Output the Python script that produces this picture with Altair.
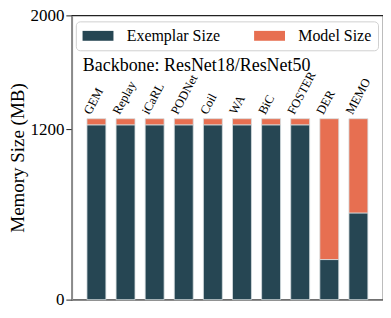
import altair as alt
import pandas as pd

methods = ["GEM", "Replay", "iCaRL", "PODNet", "Coil", "WA", "BiC", "FOSTER", "DER", "MEMO"]
exemplar = [1230, 1230, 1230, 1230, 1230, 1230, 1230, 1230, 282, 610]
model = [43, 43, 43, 43, 43, 43, 43, 43, 991, 663]
series = ["Exemplar Size", "Model Size"]
colors = ["#264653", "#E76F51"]
y_ticks = [0, 1200, 2000]

rows = []
for m, e, s in zip(methods, exemplar, model):
    rows.append({"method": m, "kind": series[0], "start": 0, "end": e})
    rows.append({"method": m, "kind": series[1], "start": e, "end": e + s})
bars_df = pd.DataFrame(rows)
labels_df = pd.DataFrame({"method": methods, "total": [e + s for e, s in zip(exemplar, model)]})

FONT = "Liberation Serif"

xs = alt.X("method:N", sort=methods,
           scale=alt.Scale(paddingInner=0.35, paddingOuter=0.52),
           axis=alt.Axis(labels=False, ticks=False, title=None, domainColor="#8a8a8a", domainWidth=1.5))
ys = alt.Y("start:Q", scale=alt.Scale(domain=[0, 2000], nice=False),
           axis=alt.Axis(values=y_ticks, format="d", title="Memory Size (MB)", grid=False,
                         domainColor="#8a8a8a", domainWidth=1.5, tickColor="#222",
                         tickSize=6, labelPadding=2, labelFontSize=17, labelFont=FONT,
                         labelColor="#000", titleFont=FONT, titleFontSize=19,
                         titleFontWeight="normal", titleColor="#000", titlePadding=2))

bars = alt.Chart(bars_df).mark_bar(stroke="#d5dde0", strokeWidth=0.8).encode(
    x=xs,
    y=ys,
    y2="end:Q",
    color=alt.Color("kind:N", sort=series,
                    scale=alt.Scale(domain=series, range=colors),
                    legend=alt.Legend(title=None, orient="none", legendX=4, legendY=6,
                                      direction="horizontal",
                                      symbolType="M-1,-0.64L3,-0.64L3,0.64L-1,0.64Z",
                                      symbolSize=240, symbolStrokeWidth=0,
                                      labelFont=FONT, labelFontSize=16, labelColor="#000",
                                      labelOffset=28.5, columnPadding=33, padding=6.5,
                                      strokeColor="#d0d0d0", fillColor="white",
                                      cornerRadius=4)),
)

labels = alt.Chart(labels_df).mark_text(
    angle=298, align="left", baseline="alphabetic", font=FONT, fontSize=12.5,
    color="#000", dx=4.7, dy=1.5,
).encode(
    x=alt.X("method:N", sort=methods, bandPosition=0),
    y=alt.Y("total:Q"),
    text="method:N",
)

note = alt.Chart(pd.DataFrame({"t": ["Backbone: ResNet18/ResNet50"]})).mark_text(
    align="left", baseline="middle", font=FONT, fontSize=18, color="#000"
).encode(x=alt.value(11), y=alt.value(51), text="t:N")

chart = alt.layer(bars, labels, note).properties(
    width=312, height=285,
    autosize=alt.AutoSizeParams(type="none"),
    padding={"left": 64, "top": 7, "right": 0, "bottom": 10},
).configure(font=FONT).configure_view(stroke="#222", strokeWidth=1.2)

chart.save("out.html", embed_options={"renderer": "svg", "actions": False})
